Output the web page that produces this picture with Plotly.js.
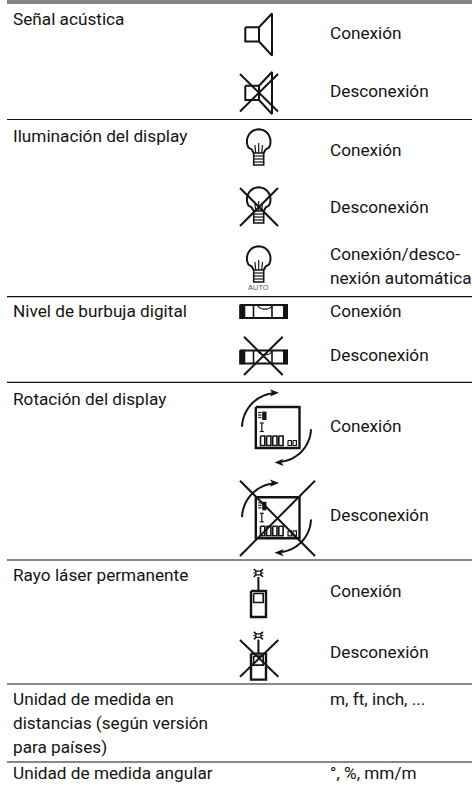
<!DOCTYPE html>
<html><head><meta charset="utf-8">
<script src="https://cdn.plot.ly/plotly-3.0.1.min.js"></script>
<style>html,body{margin:0;padding:0;background:#fff}#c{width:472px;height:788px}</style>
</head><body><div id="c"></div>
<script>
// ---- table content ----
const featureLabels = ["Señal acústica","Iluminación del display","Nivel de burbuja digital","Rotación del display","Rayo láser permanente","Unidad de medida en","distancias (según versión","para países)","Unidad de medida angular"];
const featureBaselines = [26,142.7,318.3,405.7,581.7,705.7,730,754,780];
const stateLabels = ["Conexión","Desconexión","Conexión","Desconexión","Conexión/desco-","nexión automática","Conexión","Desconexión","Conexión","Desconexión","Conexión","Desconexión","m, ft, inch, ...","°, %, mm/m"];
const stateBaselines = [40,98.3,156.7,214,261,285,318.3,361.7,433.3,522.3,598.3,659.3,705.7,780];
const rowRules = [119.5,296.7,382.3,560,684,762];
const FONT = "Roboto";
const FS = 17.2;
const INK = "#141412";

// ---- icon helpers ----
const strokes = {1.2:[],1.6:[],2.0:[],2.4:[]};
const fills = [];
function poly(w,pts){ strokes[w].push(pts); }
function rect(w,x0,y0,x1,y1){ poly(w,[[x0,y0],[x1,y0],[x1,y1],[x0,y1],[x0,y0]]); }
function arc(cx,cy,rx,ry,a0,a1){ const p=[]; const n=28; for(let i=0;i<=n;i++){const a=(a0+(a1-a0)*i/n)*Math.PI/180; p.push([cx+rx*Math.cos(a),cy-ry*Math.sin(a)]);} return p; }
function cross(x0,y0,x1,y1){ poly(2.0,[[x0,y0],[x1,y1]]); poly(2.0,[[x0,y1],[x1,y0]]); }

function speaker(dy){
  rect(2.0,245.3,27.3+dy,259,41.5+dy);
  poly(2.0,[[259,27.3+dy],[272,13.5+dy],[272,55.5+dy],[259,41.5+dy]]);
}
function bulb(dy){
  const cx=258.7, cy=141.5+dy;
  const g=arc(cx,cy,11.8,12.2,-30,210);
  poly(2.0,[[cx+5,153+dy],[cx+7,149.5+dy]].concat(g).concat([[cx-7,149.5+dy],[cx-5,153+dy]]));
  rect(1.6,cx-5,153+dy,cx+5,165+dy);
  [156,159,162].forEach(y=>poly(1.2,[[cx-5,y+dy],[cx+5,y+dy]]));
  poly(1.2,[[cx-3,153+dy],[cx-3.8,145+dy]]);
  poly(1.2,[[cx,153+dy],[cx,143+dy]]);
  poly(1.2,[[cx+3,153+dy],[cx+3.8,145+dy]]);
}
function level(dy){
  rect(2.0,240.3,305+dy,287,318+dy);
  fills.push([[239.5,304.3+dy],[245.3,304.3+dy],[245.3,318.7+dy],[239.5,318.7+dy]]);
  fills.push([[283,304.3+dy],[287.8,304.3+dy],[287.8,318.7+dy],[283,318.7+dy]]);
  poly(1.6,[[253.5,305+dy],[253.5,318+dy]]);
  poly(1.6,[[272,305+dy],[272,318+dy]]);
  poly(1.2,arc(265,305+dy,7,4.2,180,360));
}
function arrowHead(x,y,dir){
  fills.push([[x,y],[x-dir*9,y-3.6],[x-dir*7,y],[x-dir*9,y+3.6]]);
}
function rotation(dy){
  rect(2.4,255.8,407+dy,299.5,448+dy);
  poly(2.0,arc(277,428+dy,35,35,178,98));
  arrowHead(279,392.8+dy,1);
  poly(2.0,arc(277,428+dy,34,34,-2,-82));
  arrowHead(274.5,462.4+dy,-1);
  // miniature screen contents
  [412.5,415,417.5].forEach(y=>poly(1.2,[[258.2,y+dy],[261.5,y+dy]]));
  fills.push([[262.2,411.5+dy],[266.5,411.5+dy],[266.5,420+dy],[262.2,420+dy]]);
  poly(1.2,[[261.8,423+dy],[261.8,431.5+dy]]);
  poly(1.2,[[259.8,423+dy],[263.8,423+dy]]);
  poly(1.2,[[259.8,431.5+dy],[263.8,431.5+dy]]);
  [260.5,266.6,272.7,278.8].forEach(x=>rect(1.6,x,436+dy,x+4.3,445.5+dy));
  [288,293].forEach(x=>rect(1.2,x,440.5+dy,x+3.4,445.5+dy));
}
function laser(dy){
  const cx=258.4, cy=573+dy;
  rect(1.2,cx-2.5,cy-1.8,cx+2.5,cy+1.8);
  [[-1,-1],[1,-1],[-1,1],[1,1]].forEach(s=>poly(1.6,[[cx+s[0]*2,cy+s[1]*1.5],[cx+s[0]*4.6,cy+s[1]*3.8]]));
  [-1,1].forEach(s=>poly(1.2,[[cx+s*2.5,cy],[cx+s*5,cy]]));
  poly(2.0,[[cx,cy+4],[cx,590.7+dy]]);
  rect(2.4,251,591+dy,266,617+dy);
  rect(1.6,253.6,593.5+dy,263.2,602.5+dy);
}

// ---- icons, placed row by row ----
speaker(0);  speaker(58.5); cross(240,74,278,111.5);
bulb(0);     bulb(58);      cross(240,188,278,226);
bulb(117);
level(0);    level(45.5);   cross(244,336.7,282.7,375);
rotation(0); rotation(90.3);cross(240,480.7,315,556);
laser(0);    laser(62.6);   cross(240,640,278.3,676.7);

// ---- traces ----
const traces = [];
Object.keys(strokes).forEach(w=>{
  const xs=[],ys=[];
  strokes[w].forEach(p=>{p.forEach(q=>{xs.push(q[0]);ys.push(q[1]);});xs.push(null);ys.push(null);});
  traces.push({type:"scatter",mode:"lines",x:xs,y:ys,line:{color:INK,width:+w,simplify:false},hoverinfo:"skip",showlegend:false});
});
fills.forEach(p=>{
  traces.push({type:"scatter",mode:"lines",x:p.map(q=>q[0]),y:p.map(q=>q[1]),fill:"toself",fillcolor:INK,line:{color:INK,width:0},hoverinfo:"skip",showlegend:false});
});
const SHIFT = 5.2;
traces.push({type:"scatter",mode:"text",x:featureLabels.map(()=>13),y:featureBaselines.map(v=>v-SHIFT),text:featureLabels,textposition:"middle right",textfont:{family:FONT,size:FS,color:INK},hoverinfo:"skip",showlegend:false});
traces.push({type:"scatter",mode:"text",x:stateLabels.map(()=>330),y:stateBaselines.map(v=>v-SHIFT),text:stateLabels,textposition:"middle right",textfont:{family:FONT,size:FS,color:INK},hoverinfo:"skip",showlegend:false});

const shapes = [{type:"rect",xref:"x",yref:"y",x0:7,x1:472,y0:0,y1:4,fillcolor:"#868686",line:{width:0}}]
 .concat(rowRules.map(y=>({type:"line",xref:"x",yref:"y",x0:7,x1:472,y0:y,y1:y,line:{color:"#111",width:1.2}})));

Plotly.newPlot("c",traces,{
  width:472,height:788,margin:{l:0,r:0,t:0,b:0},
  paper_bgcolor:"#fff",plot_bgcolor:"#fff",showlegend:false,
  xaxis:{range:[0,472],visible:false,fixedrange:true},
  yaxis:{range:[788,0],visible:false,fixedrange:true},
  shapes:shapes,
  annotations:[{x:258.5,y:287.5,xref:"x",yref:"y",text:"AUTO",showarrow:false,font:{family:"Liberation Sans",size:7.5,color:"#555"},xanchor:"center",yanchor:"middle"}]
},{displayModeBar:false,staticPlot:true});
</script></body></html>
